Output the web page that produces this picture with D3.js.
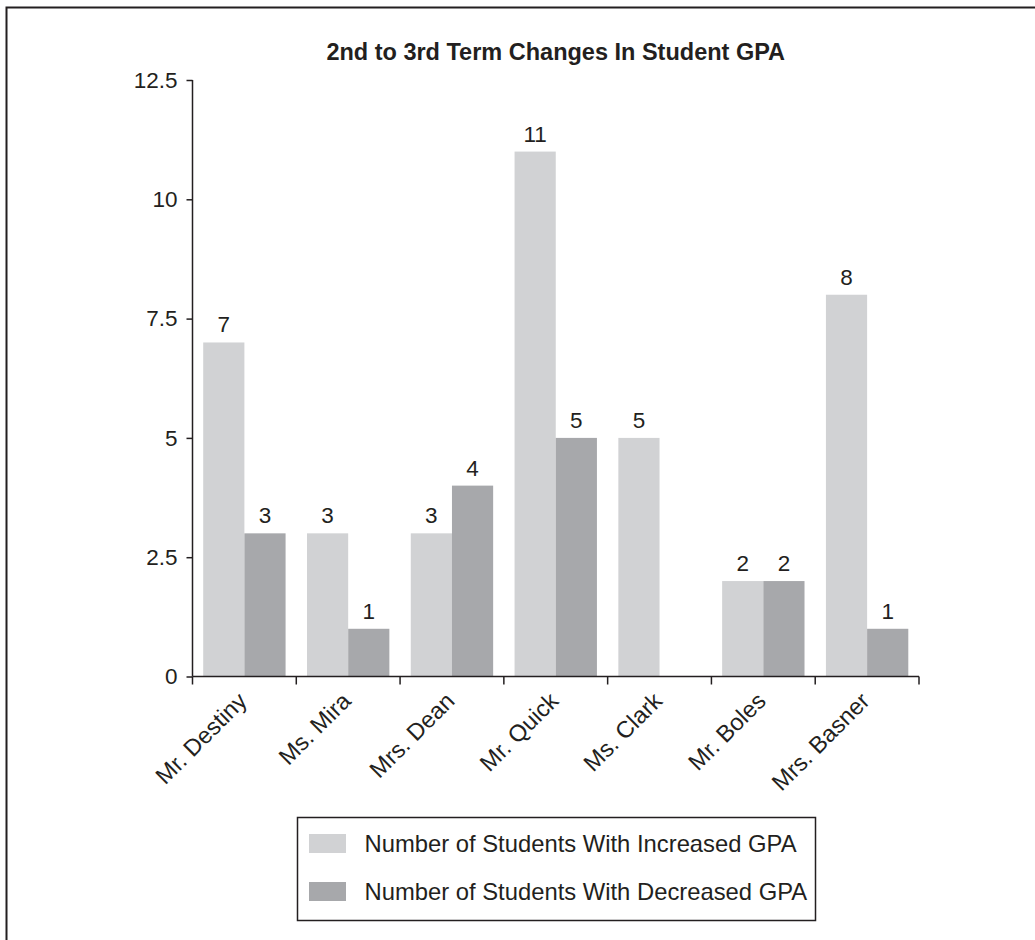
<!DOCTYPE html>
<html>
<head>
<meta charset="utf-8">
<script src="https://cdn.jsdelivr.net/npm/d3@7"></script>
<style>
  html, body { margin: 0; padding: 0; background: #fff; }
  svg { display: block; }
  text { font-family: "Liberation Sans", Arial, Helvetica, sans-serif; fill: #231f20; }
</style>
</head>
<body>
<svg id="chart" width="1035" height="940"></svg>
<script>
const categories = ["Mr. Destiny", "Ms. Mira", "Mrs. Dean", "Mr. Quick", "Ms. Clark", "Mr. Boles", "Mrs. Basner"];
const increased = [7, 3, 3, 11, 5, 2, 8];
const decreased = [3, 1, 4, 5, 0, 2, 1];
const seriesNames = ["Number of Students With Increased GPA", "Number of Students With Decreased GPA"];
const seriesColors = ["#d1d2d4", "#a7a8ab"];
const yTicks = [0, 2.5, 5, 7.5, 10, 12.5];
const yTickLabels = ["0", "2.5", "5", "7.5", "10", "12.5"];
const chartTitle = "2nd to 3rd Term Changes In Student GPA";

const seriesValues = [increased, decreased];
const ink = "#231f20";
const svg = d3.select("#chart");

// outer frame (extends past the picture on right/bottom)
svg.append("rect")
  .attr("x", 6.5).attr("y", 7.5).attr("width", 1100).attr("height", 1000)
  .attr("fill", "none").attr("stroke", ink).attr("stroke-width", 2);

const pL = 192.5, pR = 919, pT = 80, pB = 676.5;

const x0 = d3.scaleBand().domain(categories).range([pL, pR]).padding(0);
const x1 = d3.scaleBand().domain([0, 1]).range([0, x0.bandwidth()]).paddingInner(0).paddingOuter(0.26);
const y = d3.scaleLinear().domain([0, 12.5]).range([pB, pT]);

// title
svg.append("text")
  .attr("x", (pL + pR) / 2).attr("y", 60)
  .attr("text-anchor", "middle")
  .style("font-weight", "bold").style("font-size", "23.5px")
  .text(chartTitle);

// bars
const rows = categories.map((c, i) => ({ cat: c, vals: seriesValues.map(s => s[i]) }));
const groups = svg.append("g").selectAll("g").data(rows).join("g")
  .attr("transform", d => `translate(${x0(d.cat)},0)`);

groups.selectAll("rect").data(d => d.vals.map((v, k) => ({ v, k }))).join("rect")
  .attr("x", d => x1(d.k))
  .attr("width", x1.bandwidth())
  .attr("y", d => y(d.v))
  .attr("height", d => y(0) - y(d.v))
  .attr("fill", d => seriesColors[d.k]);

groups.selectAll("text.val").data(d => d.vals.map((v, k) => ({ v, k })).filter(d => d.v > 0)).join("text")
  .attr("class", "val")
  .attr("x", d => x1(d.k) + x1.bandwidth() / 2)
  .attr("y", d => y(d.v) - 10)
  .attr("text-anchor", "middle")
  .style("font-size", "22.5px")
  .text(d => d.v);

// y axis
const yAxis = d3.axisLeft(y).tickValues(yTicks)
  .tickFormat((d, i) => yTickLabels[i]).tickSize(6).tickPadding(9);
const yg = svg.append("g").attr("transform", `translate(${pL},0)`).call(yAxis);
yg.select(".domain").remove();
yg.selectAll(".tick line").attr("stroke", ink).attr("stroke-width", 1.5);
yg.selectAll(".tick text").style("font-size", "22.5px").style("font-family", "'Liberation Sans', Arial, sans-serif").attr("fill", ink);
svg.append("line").attr("x1", pL).attr("x2", pL).attr("y1", pT).attr("y2", pB)
  .attr("stroke", ink).attr("stroke-width", 1.5);

// x axis
svg.append("line").attr("x1", pL).attr("x2", pR).attr("y1", pB).attr("y2", pB)
  .attr("stroke", ink).attr("stroke-width", 1.5);
const boundaries = categories.map(c => x0(c)).concat([pR]);
svg.append("g").selectAll("line").data(boundaries).join("line")
  .attr("x1", d => d).attr("x2", d => d)
  .attr("y1", pB).attr("y2", pB + 8)
  .attr("stroke", ink).attr("stroke-width", 1.5);

svg.append("g").selectAll("text").data(categories).join("text")
  .attr("transform", d => `translate(${x0(d) + x0.bandwidth() / 2 + 4},${pB + 26}) rotate(-45)`)
  .attr("text-anchor", "end")
  .style("font-size", "23.5px")
  .text(d => d);

// legend
const lg = svg.append("g");
lg.append("rect").attr("x", 297.5).attr("y", 817.5).attr("width", 518).attr("height", 103)
  .attr("fill", "#fff").attr("stroke", ink).attr("stroke-width", 1.5);
seriesNames.forEach((name, k) => {
  const cy = 843.5 + k * 48;
  lg.append("rect").attr("x", 309).attr("y", cy - 9.5).attr("width", 37).attr("height", 19)
    .attr("fill", seriesColors[k]);
  lg.append("text").attr("x", 364.5).attr("y", cy + 8.5)
    .style("font-size", "23.8px").text(name);
});
</script>
</body>
</html>
